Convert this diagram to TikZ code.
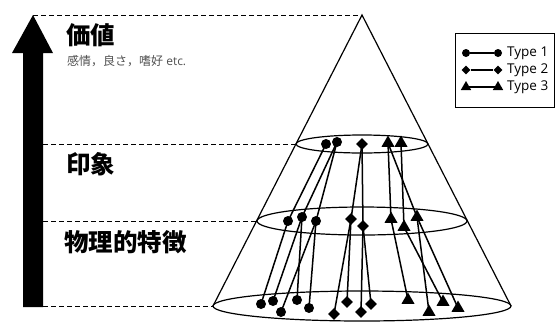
\documentclass[tikz,border=0pt]{standalone}
\usepackage{fontspec}
\setmainfont{Open Sans}
\newfontfamily\cjk{Noto Sans CJK JP}
\usetikzlibrary{shapes.geometric}
\definecolor{subtext}{RGB}{80,80,80}
\begin{document}
\begin{tikzpicture}[x=1pt,y=-1pt,
  dot/.style={circle,fill=black,inner sep=0pt,minimum size=10pt},
  dia/.style={diamond,fill=black,inner sep=0pt,minimum width=12pt,minimum height=12pt},
  tri/.style={regular polygon,regular polygon sides=3,fill=black,inner sep=0pt,minimum size=15pt},
  sdot/.style={circle,fill=black,inner sep=0pt,minimum size=8pt},
  sdia/.style={diamond,fill=black,inner sep=0pt,minimum width=9pt,minimum height=9pt},
  stri/.style={regular polygon,regular polygon sides=3,fill=black,inner sep=0pt,minimum size=12pt},
  link/.style={line width=1.5pt},
  cone/.style={line width=1.2pt},
  guide/.style={dash pattern=on 5pt off 3pt, line width=0.8pt},
  head/.style={anchor=west,inner sep=0pt,font=\cjk\bfseries\fontsize{24.5pt}{28pt}\selectfont},
  leg/.style={anchor=west,inner sep=0pt,font=\fontsize{13.5pt}{15pt}\selectfont}]
\useasboundingbox (0,0) rectangle (556,322);
% cone
\coordinate (apex) at (362,15);
\coordinate (bl) at (213,306);
\coordinate (br) at (511,306);
\draw[cone,line join=miter] (bl) -- (apex) -- (br);
\draw[cone] (362,144) ellipse [x radius=66pt,y radius=9pt];
\draw[cone] (362,221) ellipse [x radius=105pt,y radius=14pt];
\draw[cone] (362,306) ellipse [x radius=149pt,y radius=15pt];
% arrow
\fill (23,307) -- (23,53) -- (12,53) -- (33,15) -- (53,53) -- (43,53) -- (43,307) -- cycle;
\coordinate (tip) at (33,15);
\coordinate (g1) at (43,144); \coordinate (e1) at (296,144);
\coordinate (g2) at (43,221); \coordinate (e2) at (257,221);
\coordinate (g3) at (43,306);
\draw[guide] (tip) -- (apex);
\draw[guide] (g1) -- (e1);
\draw[guide] (g2) -- (e2);
\draw[guide] (g3) -- (bl);
% texts
\node[head] (value) at (66,35) {価値};
\node[anchor=west,inner sep=0pt,text=subtext,font=\fontsize{12pt}{14pt}\selectfont] (valsub) at (67,61) {{\cjk 感情，良さ，嗜好} etc.};
\node[head] (impr) at (66,164) {印象};
\node[head] (phys) at (64,242) {物理的特徴};
% circles
\node[dot] (c1) at (326,144) {};
\node[dot] (c2) at (337,142) {};
\node[dot] (c3) at (288,221) {};
\node[dot] (c4) at (302,217) {};
\node[dot] (c5) at (316,221) {};
\node[dot] (c6) at (261,304) {};
\node[dot] (c7) at (273,301) {};
\node[dot] (c8) at (281,312) {};
\node[dot] (c9) at (297,300) {};
\node[dot] (c10) at (309,308) {};
\draw[link] (c1.center) -- (c3.center);
\draw[link] (c2.center) -- (c4.center);
\draw[link] (c2.center) -- (c5.center);
\draw[link] (c3.center) -- (c6.center);
\draw[link] (c4.center) -- (c7.center);
\draw[link] (c4.center) -- (c9.center);
\draw[link] (c5.center) -- (c8.center);
\draw[link] (c5.center) -- (c10.center);
% diamonds
\node[dia] (d1) at (362,144) {};
\node[dia] (d2) at (351,219) {};
\node[dia] (d3) at (363,226) {};
\node[dia] (d4) at (334,314) {};
\node[dia] (d5) at (347,302) {};
\node[dia] (d6) at (361,312) {};
\node[dia] (d7) at (371,304) {};
\draw[link] (d1.center) -- (d2.center);
\draw[link] (d1.center) -- (d3.center);
\draw[link] (d2.center) -- (d4.center);
\draw[link] (d2.center) -- (d5.center);
\draw[link] (d3.center) -- (d6.center);
\draw[link] (d3.center) -- (d7.center);
% triangles
\node[tri] (t1) at (388,143) {};
\node[tri] (t2) at (401,143) {};
\node[tri] (t3) at (391,219) {};
\node[tri] (t4) at (404,227) {};
\node[tri] (t5) at (417,217) {};
\node[tri] (t6) at (408,300) {};
\node[tri] (t7) at (429,312) {};
\node[tri] (t8) at (443,302) {};
\node[tri] (t9) at (458,308) {};
\draw[link] (t1.center) -- (t3.center);
\draw[link] (t1.center) -- (t5.center);
\draw[link] (t2.center) -- (t4.center);
\draw[link] (t3.center) -- (t6.center);
\draw[link] (t5.center) -- (t7.center);
\draw[link] (t4.center) -- (t8.center);
\draw[link] (t5.center) -- (t9.center);
% legend
\draw[line width=1pt] (455,33) rectangle (554,107);
\node[sdot] (l1a) at (466,53) {};
\node[sdot] (l1b) at (498,53) {};
\draw[line width=1.3pt] (l1a) -- (l1b);
\node[leg] (l1t) at (507,53) {Type 1};
\node[sdia] (l2a) at (466,70) {};
\node[sdia] (l2b) at (498,70) {};
\draw[line width=1.3pt] (l2a) -- (l2b);
\node[leg] (l2t) at (507,70) {Type 2};
\node[stri] (l3a) at (466,87) {};
\node[stri] (l3b) at (498,87) {};
\draw[line width=1.3pt] (l3a.center) -- (l3b.center);
\node[leg] (l3t) at (507,87) {Type 3};
\end{tikzpicture}
\end{document}
